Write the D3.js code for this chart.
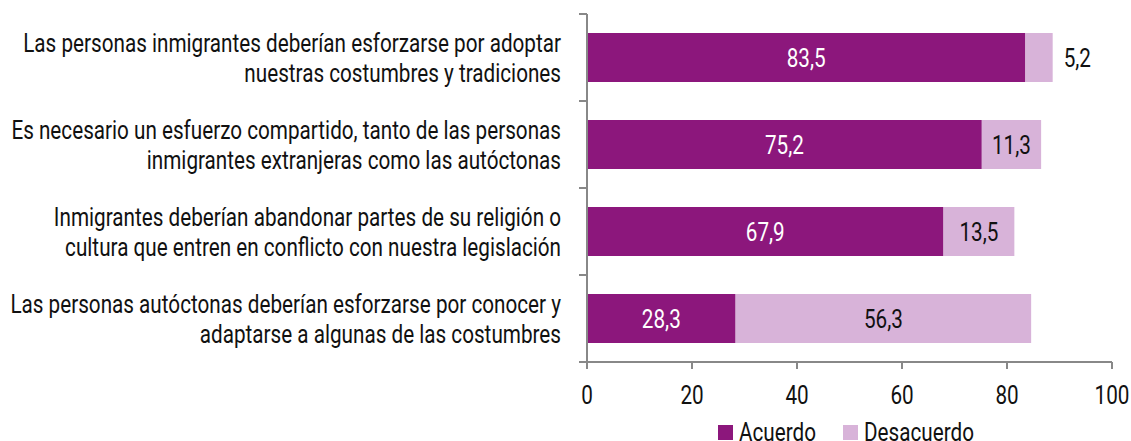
<!DOCTYPE html>
<html><head><meta charset="utf-8">
<script src="https://cdn.jsdelivr.net/npm/d3@7"></script>
<style>
body{margin:0;background:#fff;}
text{font-family:Roboto,'DejaVu Sans',sans-serif;}
</style></head>
<body><svg id="c" width="1131" height="441"></svg>
<script>
const categories = [
  ["Las personas inmigrantes deberían esforzarse por adoptar","nuestras costumbres y tradiciones"],
  ["Es necesario un esfuerzo compartido, tanto de las personas","inmigrantes extranjeras como las autóctonas"],
  ["Inmigrantes deberían abandonar partes de su religión o","cultura que entren en conflicto con nuestra legislación"],
  ["Las personas autóctonas deberían esforzarse por conocer y","adaptarse a algunas de las costumbres"]
];
const acuerdo = [83.5, 75.2, 67.9, 28.3];
const desacuerdo = [5.2, 11.3, 13.5, 56.3];
const seriesNames = ["Acuerdo", "Desacuerdo"];
const xTicks = [0, 20, 40, 60, 80, 100];

const colors = ["#8c177c", "#d8b3d9"];
const fs = 25;
const svg = d3.select("#c");

// horizontal condensing factor so the first label spans the reference width
const probe = svg.append("text").attr("font-size", fs).text(categories[0][0]);
const sx = 538 / probe.node().getComputedTextLength();
probe.remove();

function label(px, py, str, anchor, fill) {
  return svg.append("text")
    .attr("transform", `translate(${px},${py}) scale(${sx},1)`)
    .attr("text-anchor", anchor).attr("font-size", fs).attr("fill", fill).text(str);
}

const x = d3.scaleLinear().domain([0, 100]).range([587, 1112]);
const y = d3.scaleBand().domain(d3.range(categories.length)).range([14, 362]).paddingInner(0.437).paddingOuter(0.2185);
const fmt = v => v.toFixed(1).replace(".", ",");

// bars
categories.forEach((c, i) => {
  const segs = [[0, acuerdo[i]], [acuerdo[i], acuerdo[i] + desacuerdo[i]]];
  segs.forEach((s, k) => {
    svg.append("rect").attr("x", x(s[0])).attr("y", y(i)).attr("width", x(s[1]) - x(s[0]))
      .attr("height", y.bandwidth()).attr("fill", colors[k]);
    const w = x(s[1]) - x(s[0]);
    const v = k === 0 ? acuerdo[i] : desacuerdo[i];
    const inside = w > 45;
    label(inside ? (x(s[0]) + x(s[1])) / 2 : x(s[1]) + 11, y(i) + y.bandwidth() / 2 + 9,
      fmt(v), inside ? "middle" : "start", k === 0 ? "#fff" : "#111");
  });
});

// category labels
categories.forEach((c, i) => {
  const cy = y(i) + y.bandwidth() / 2;
  c.forEach((line, j) => label(561, cy - 6 + j * 30, line, "end", "#111"));
});

// axes
const axisColor = "#888";
const yBounds = d3.range(categories.length + 1).map(i => 14 + i * (348 / categories.length));
svg.append("line").attr("x1", 587).attr("x2", 587).attr("y1", 14).attr("y2", 362).attr("stroke", axisColor).attr("stroke-width", 2);
yBounds.forEach(b => svg.append("line").attr("x1", 579).attr("x2", 587).attr("y1", b).attr("y2", b).attr("stroke", axisColor).attr("stroke-width", 2));
svg.append("line").attr("x1", 587).attr("x2", 1112).attr("y1", 362).attr("y2", 362).attr("stroke", axisColor).attr("stroke-width", 2);
xTicks.forEach(t => {
  svg.append("line").attr("x1", x(t)).attr("x2", x(t)).attr("y1", 362).attr("y2", 369).attr("stroke", axisColor).attr("stroke-width", 2);
  label(x(t), 404, String(t), "middle", "#111");
});

// legend
const legX = [718, 843];
seriesNames.forEach((n, k) => {
  svg.append("rect").attr("x", legX[k]).attr("y", 425).attr("width", 15).attr("height", 15).attr("fill", colors[k]);
  label(legX[k] + 21, 441, n, "start", "#111");
});
</script></body></html>
